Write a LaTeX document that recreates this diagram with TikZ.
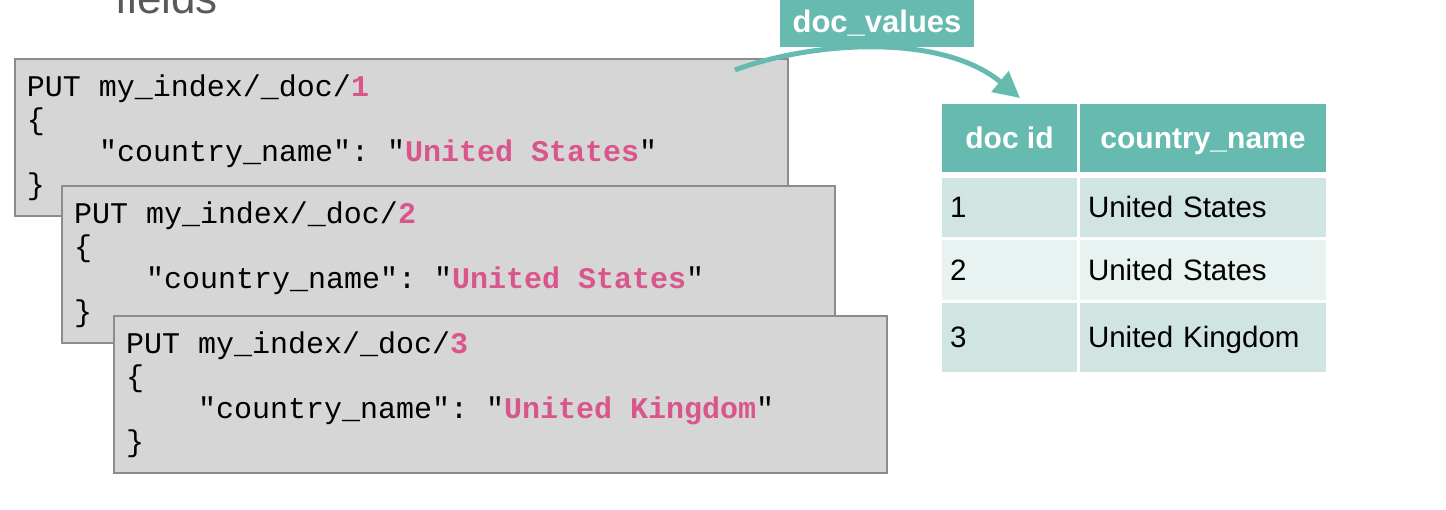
\documentclass[tikz,border=0pt]{standalone}
\usepackage{fontspec}
\setmainfont{Liberation Sans}
\setmonofont{Liberation Mono}
\usetikzlibrary{arrows.meta}
\definecolor{esteal}{HTML}{66BAB0}
\definecolor{rowdark}{HTML}{D0E4E1}
\definecolor{rowlight}{HTML}{E8F2F0}
\definecolor{codefill}{HTML}{D6D6D6}
\definecolor{codeline}{HTML}{8C8C8C}
\definecolor{valpink}{HTML}{D9558C}
\definecolor{titlegray}{HTML}{595959}
\newcommand{\tsp}{\hphantom{X}}
\tikzset{
  codebox/.style={draw=codeline,line width=2pt,fill=codefill,inner xsep=12pt,inner ysep=0pt,
    text width=749pt,minimum height=157pt,align=left,
    font=\ttfamily\fontsize{30}{32.5}\selectfont},
  headcell/.style={fill=esteal,inner sep=0pt,minimum height=68pt,text=white,
    text height=21pt,text depth=0pt,font=\bfseries\fontsize{30}{32}\selectfont},
  bodycell/.style={inner xsep=8pt,inner ysep=0pt,align=left,text height=21pt,text depth=0pt,
    font=\fontsize{29.5}{31}\selectfont},
}
\begin{document}
\begin{tikzpicture}[x=1pt,y=-1pt]
\useasboundingbox (0,0) rectangle (1446,510);
\node[anchor=base west,text=titlegray,inner sep=0pt,font=\fontsize{44}{46}\selectfont] (title) at (115,14) {fields};
% the three PUT requests
\foreach \n/\x/\y/\cname in {1/15/59/United\tsp States,2/62/186/United\tsp States,3/114/316/United\tsp Kingdom}
  \node[codebox] (doc\n) at (\x+386.5,\y+78.5) {PUT\tsp my\_index/\_doc/\textcolor{valpink}{\textbf{\n}}\\
    \{\\
    \hphantom{XXXX}"country\_name":\tsp"\textcolor{valpink}{\textbf{\cname}}"\\
    \}};
% doc values table
\node[headcell,minimum width=135pt] (hd1) at (1009.5,138) {doc id};
\node[headcell,minimum width=246pt] (hd2) at (1203,138) {country\_name};
\foreach \r/\y/\h/\col/\cname in {1/207.5/59/rowdark/United States,2/270/60/rowlight/United States,3/337.5/69/rowdark/United Kingdom}{
  \node[bodycell,fill=\col,text width=119pt,minimum height=\h pt] (id\r) at (1009.5,\y) {\r};
  \node[bodycell,fill=\col,text width=230pt,minimum height=\h pt] (nm\r) at (1203,\y) {\cname};
}
\coordinate (src) at (735,70);
\coordinate (dst) at (1020,98);
\draw[esteal,line width=5pt,-{Triangle[length=26pt,width=26pt]}] (src) .. controls (810,42) and (940,32) .. (dst);
\node[fill=esteal,text=white,inner sep=0pt,minimum width=194pt,minimum height=47pt,
  font=\bfseries\fontsize{31}{33}\selectfont] (dv) at (877,23.5) {doc\_values};
\end{tikzpicture}
\end{document}
